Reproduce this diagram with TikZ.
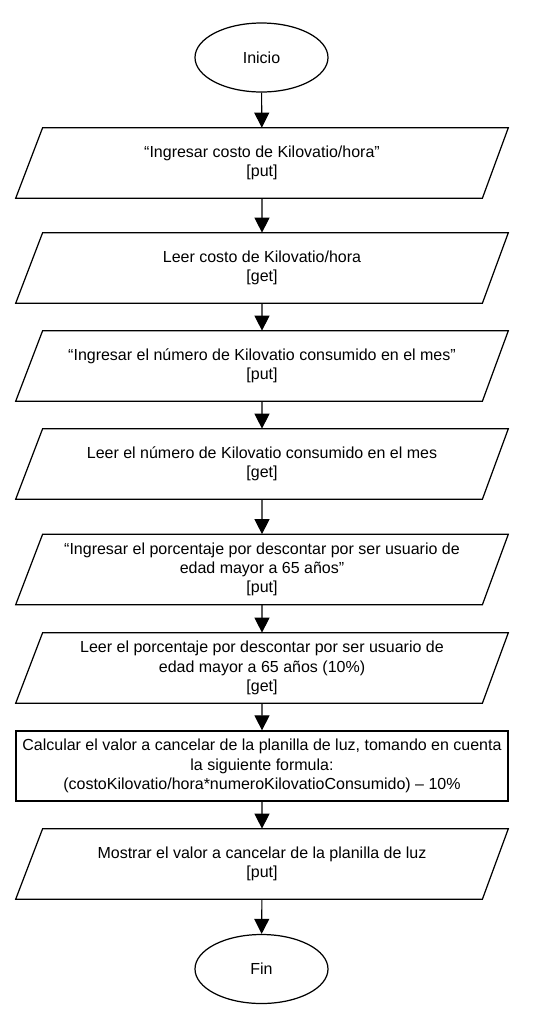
\documentclass[tikz,border=0pt]{standalone}
\usepackage{fontspec}
\setmainfont{Liberation Sans}
\usetikzlibrary{shapes.geometric,arrows.meta,calc}

\begin{document}
\begin{tikzpicture}[scale=0.2]
\tikzstyle{every node}+=[inner sep=0pt, font=\fontsize{9.1}{10.9}\selectfont, align=center]
\tikzstyle{terminal}=[draw=black, line width=0.7pt, ellipse, minimum width=2.66cm, minimum height=1.38cm]
\tikzstyle{io}=[rectangle, minimum width=9.84cm, minimum height=1.4cm]
\tikzstyle{proc}=[draw=black, line width=0.7pt, rectangle, minimum width=9.84cm, minimum height=1.4cm]
\tikzstyle{flow}=[black, line width=0.6pt, -{Triangle[width=0.3cm, length=0.3cm]}]
\useasboundingbox (0,0) rectangle (55.1,-102.4);
\node [terminal] (inicio) at (26.15,-5.75) {Inicio};
\node [io] (pideCosto) at (26.2,-16.3) {“Ingresar costo de Kilovatio/hora”\\{}[put]};
\node [io] (leeCosto) at (26.2,-26.8) {Leer costo de Kilovatio/hora\\{}[get]};
\node [io] (pideKw) at (26.2,-36.6) {“Ingresar el número de Kilovatio consumido en el mes”\\{}[put]};
\node [io] (leeKw) at (26.2,-46.4) {Leer el número de Kilovatio consumido en el mes\\{}[get]};
\node [io] (pideDesc) at (26.2,-56.95) {“Ingresar el porcentaje por descontar por ser usuario de\\edad mayor a 65 años”\\{}[put]};
\node [io] (leeDesc) at (26.2,-66.8) {Leer el porcentaje por descontar por ser usuario de\\edad mayor a 65 años (10\%)\\{}[get]};
\node [proc] (calculo) at (26.2,-76.6) {Calcular el valor a cancelar de la planilla de luz, tomando en cuenta\\la siguiente formula:\\(costoKilovatio/hora*numeroKilovatioConsumido) – 10\%};
\node [io] (muestra) at (26.2,-86.4) {Mostrar el valor a cancelar de la planilla de luz\\{}[put]};
\node [terminal] (fin) at (26.15,-96.9) {Fin};
% parallelograms for input / output
\foreach \n in {pideCosto,leeCosto,pideKw,leeKw,pideDesc,leeDesc,muestra}
  \draw [black, line width=0.7pt] ($(\n.north west)+(2.7,0)$) -- (\n.north east) -- ($(\n.south east)-(2.6,0)$) -- (\n.south west) -- cycle;
\draw [flow] (inicio) -- (pideCosto);
\draw [flow] (pideCosto) -- (leeCosto);
\draw [flow] (leeCosto) -- (pideKw);
\draw [flow] (pideKw) -- (leeKw);
\draw [flow] (leeKw) -- (pideDesc);
\draw [flow] (pideDesc) -- (leeDesc);
\draw [flow] (leeDesc) -- (calculo);
\draw [flow] (calculo) -- (muestra);
\draw [flow] (muestra) -- (fin);
\end{tikzpicture}
\end{document}
